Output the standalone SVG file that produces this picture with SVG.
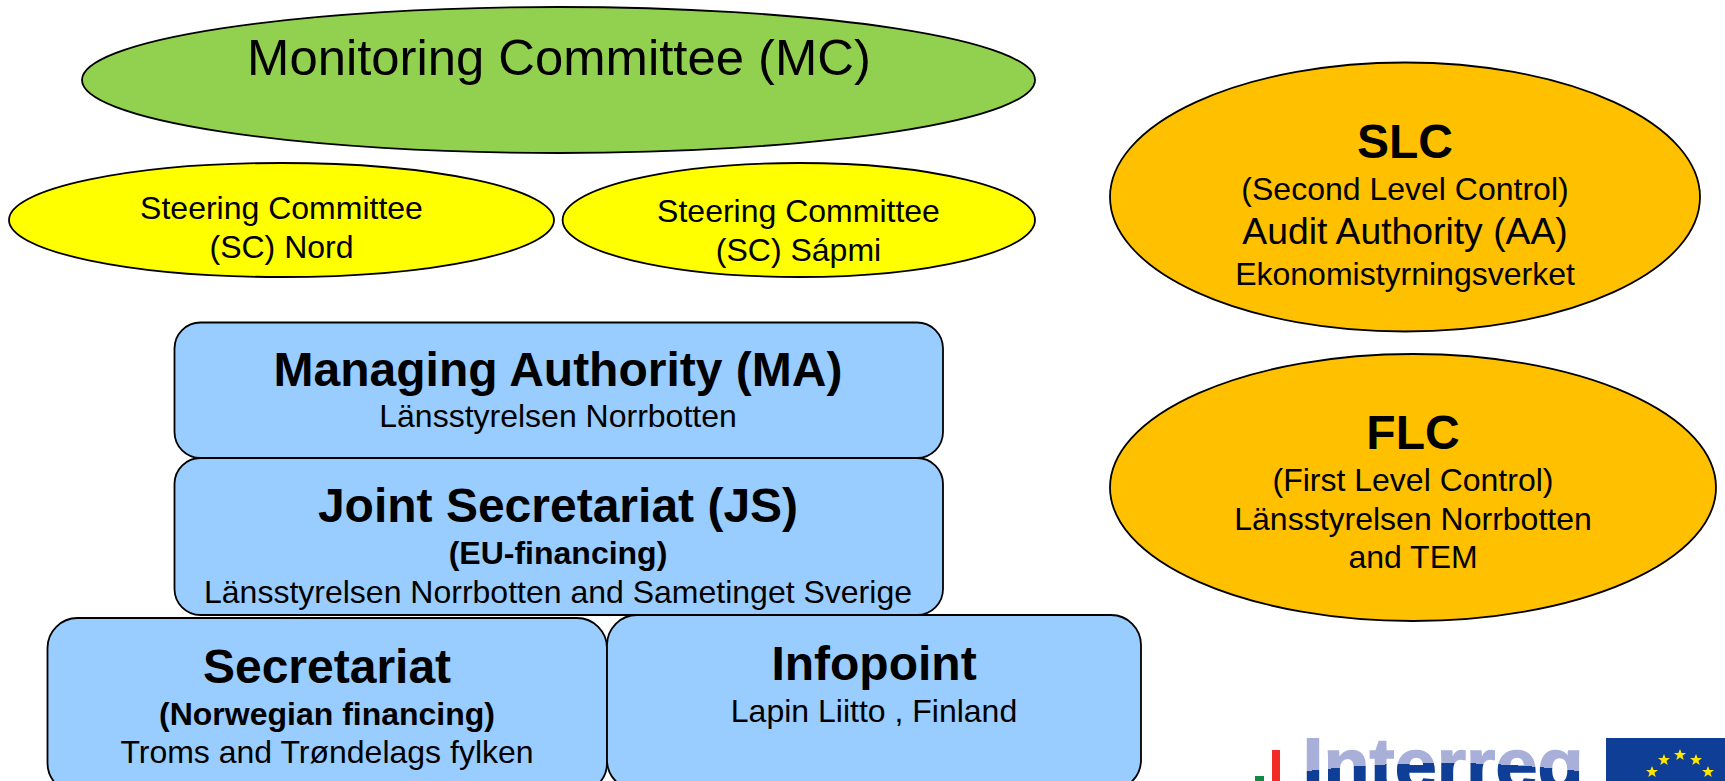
<svg xmlns="http://www.w3.org/2000/svg" width="1725" height="781" viewBox="0 0 1725 781">
<style>
text{font-family:"Liberation Sans",Arial,sans-serif;text-anchor:middle;fill:#000}
.n{stroke:#000;stroke-width:1.8}
.g{fill:#92d050}.y{fill:#ff0}.o{fill:#ffc000}.b{fill:#99ccff}
.h{font-weight:bold;font-size:48px}
.h2{font-weight:bold;font-size:32px}
.t{font-size:32px}
.star{fill:#ffe600}
</style>
<defs>
<radialGradient id="wave" gradientUnits="userSpaceOnUse" cx="1443" cy="1919" r="1200">
<stop offset="0" stop-color="#0f3e96"/><stop offset="0.9633" stop-color="#0f3e96"/><stop offset="0.9633" stop-color="#a8b0d9"/><stop offset="1" stop-color="#a8b0d9"/>
</radialGradient>
<polygon id="st" points="0,-6 1.6,-1.9 6,-1.9 2.5,0.8 3.7,5 0,2.5 -3.7,5 -2.5,0.8 -6,-1.9 -1.6,-1.9"/>
</defs>
<rect width="1725" height="781" fill="#fff"/>
<g id="connectors"/>
<g id="mc"><ellipse class="n g" cx="558.500" cy="80" rx="476.500" ry="73"/><text x="559" y="75" font-size="50.800">Monitoring Committee (MC)</text></g>
<g id="sc-nord"><ellipse class="n y" cx="281.500" cy="220" rx="272.500" ry="57"/><text class="t" x="281.500" y="219">Steering Committee</text><text class="t" x="281.500" y="258">(SC) Nord</text></g>
<g id="sc-sapmi"><ellipse class="n y" cx="798.800" cy="220" rx="236.200" ry="57"/><text class="t" x="798.500" y="222">Steering Committee</text><text class="t" x="798.500" y="261">(SC) Sápmi</text></g>
<g id="slc"><ellipse class="n o" cx="1405" cy="197" rx="295" ry="134.500"/><text x="1405" y="158" font-size="48" font-weight="bold">SLC</text><text class="t" x="1405" y="200">(Second Level Control)</text><text x="1405" y="244" font-size="37.300">Audit Authority (AA)</text><text class="t" x="1405" y="285">Ekonomistyrningsverket</text></g>
<g id="flc"><ellipse class="n o" cx="1413" cy="487.500" rx="303" ry="133.500"/><text x="1413" y="449" font-size="48" font-weight="bold">FLC</text><text class="t" x="1413" y="491">(First Level Control)</text><text class="t" x="1413" y="530">Länsstyrelsen Norrbotten</text><text class="t" x="1413" y="568">and TEM</text></g>
<g id="ma"><rect class="n b" x="174.500" y="322.500" width="768.500" height="135.500" rx="26"/><text class="h" x="558" y="386">Managing Authority (MA)</text><text class="t" x="558" y="427">Länsstyrelsen Norrbotten</text></g>
<g id="js"><rect class="n b" x="174.500" y="458" width="768.500" height="157" rx="26"/><text class="h" x="558" y="522">Joint Secretariat (JS)</text><text class="h2" x="558" y="564">(EU-financing)</text><text class="t" x="558" y="603">Länsstyrelsen Norrbotten and Sametinget Sverige</text></g>
<g id="secretariat"><rect class="n b" x="47.500" y="618" width="559.500" height="175" rx="30"/><text class="h" x="327" y="683">Secretariat</text><text class="h2" x="327" y="725">(Norwegian financing)</text><text class="t" x="327" y="763">Troms and Trøndelags fylken</text></g>
<g id="infopoint"><rect class="n b" x="607" y="615" width="534" height="175" rx="30"/><text class="h" x="874" y="680">Infopoint</text><text class="t" x="874" y="722">Lapin Liitto , Finland</text></g>
<g id="logo">
<rect x="1255" y="776" width="9" height="5" fill="#0f8a45"/><rect x="1272" y="750" width="8" height="31" fill="#f22b24"/>
<text x="1443" y="790" font-size="74" font-weight="bold" textLength="281" lengthAdjust="spacingAndGlyphs" stroke="url(#wave)" stroke-width="1.5" style="fill:url(#wave)">Interreg</text>
<rect x="1606" y="738" width="119" height="43" fill="#0f3e96"/>
<use href="#st" class="star" x="1652" y="772"/><use href="#st" class="star" x="1664" y="760"/><use href="#st" class="star" x="1680" y="755"/><use href="#st" class="star" x="1696" y="760"/><use href="#st" class="star" x="1708" y="772"/>
</g>
</svg>
